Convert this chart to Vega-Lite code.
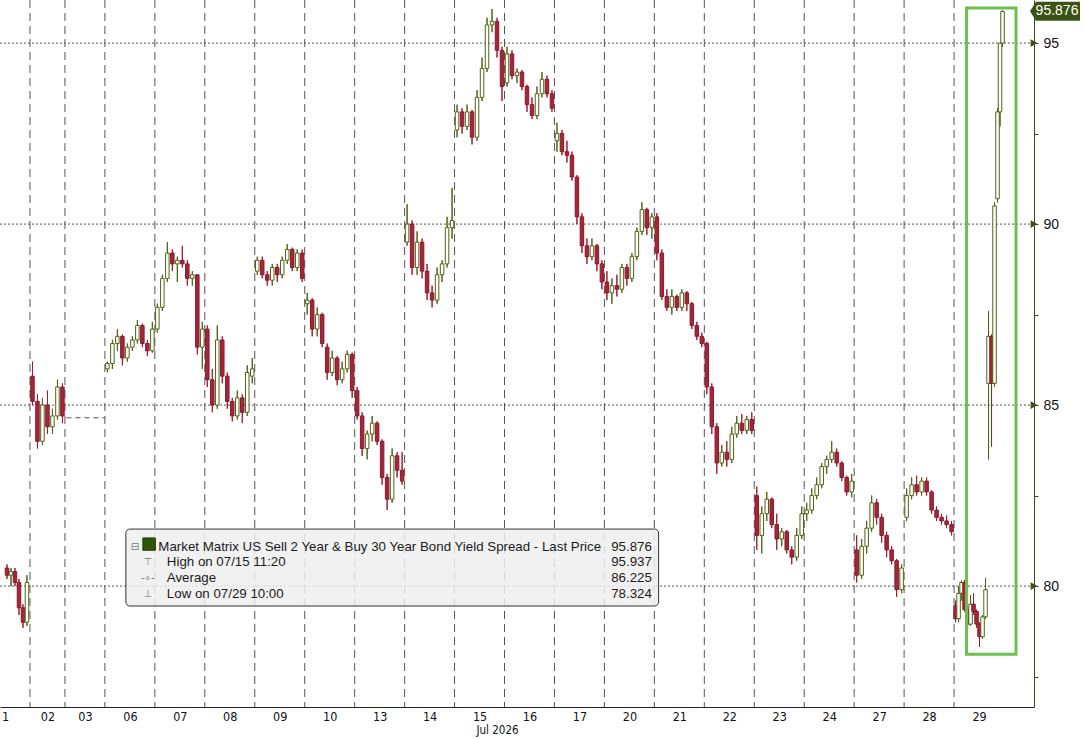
{
  "$schema": "https://vega.github.io/schema/vega-lite/v6.json",
  "autosize": "none",
  "width": 1034,
  "height": 707,
  "padding": {"left": 0, "top": 0, "right": 51, "bottom": 32},
  "background": "white",
  "config": {"view": {"stroke": null}, "font": "Liberation Sans"},
  "datasets": {
    "candles": [
      {"t":0.4,"o":80.5,"h":80.6,"l":80.2,"c":80.3},
      {"t":1.2,"o":80.3,"h":80.5,"l":80.0,"c":80.4},
      {"t":2.0,"o":80.4,"h":80.5,"l":80.0,"c":80.1},
      {"t":2.8,"o":80.1,"h":80.2,"l":79.2,"c":79.4},
      {"t":3.6,"o":79.4,"h":79.5,"l":78.85,"c":79.0},
      {"t":4.4,"o":79.0,"h":80.3,"l":78.9,"c":80.1},
      {"t":5.5,"o":85.8,"h":86.2,"l":85.0,"c":85.1},
      {"t":6.5,"o":85.1,"h":85.3,"l":83.8,"c":84.0},
      {"t":7.5,"o":84.0,"h":85.2,"l":83.9,"c":85.0},
      {"t":8.5,"o":85.0,"h":85.4,"l":84.2,"c":84.4},
      {"t":9.5,"o":84.4,"h":84.9,"l":84.2,"c":84.7},
      {"t":10.5,"o":84.7,"h":85.7,"l":84.6,"c":85.5},
      {"t":11.5,"o":85.5,"h":85.6,"l":84.5,"c":84.7},
      {"t":20.5,"o":86.0,"h":86.2,"l":85.9,"c":86.15},
      {"t":21.5,"o":86.15,"h":86.8,"l":86.0,"c":86.7},
      {"t":22.5,"o":86.7,"h":87.1,"l":86.5,"c":86.9},
      {"t":23.5,"o":86.9,"h":86.95,"l":86.1,"c":86.3},
      {"t":24.5,"o":86.3,"h":86.7,"l":86.2,"c":86.6},
      {"t":25.5,"o":86.6,"h":86.9,"l":86.5,"c":86.8},
      {"t":26.5,"o":86.8,"h":87.35,"l":86.7,"c":87.2},
      {"t":27.5,"o":87.2,"h":87.25,"l":86.6,"c":86.7},
      {"t":28.5,"o":86.7,"h":86.8,"l":86.35,"c":86.5},
      {"t":29.5,"o":86.5,"h":87.3,"l":86.45,"c":87.1},
      {"t":30.5,"o":87.1,"h":87.8,"l":87.0,"c":87.7},
      {"t":31.5,"o":87.7,"h":88.6,"l":87.6,"c":88.5},
      {"t":32.5,"o":88.5,"h":89.5,"l":88.4,"c":89.2},
      {"t":33.5,"o":89.2,"h":89.3,"l":88.7,"c":88.9},
      {"t":34.5,"o":88.9,"h":89.1,"l":88.4,"c":89.0},
      {"t":35.5,"o":89.0,"h":89.4,"l":88.8,"c":88.9},
      {"t":36.5,"o":88.9,"h":89.0,"l":88.3,"c":88.5},
      {"t":37.5,"o":88.5,"h":88.7,"l":88.3,"c":88.6},
      {"t":38.5,"o":88.6,"h":88.6,"l":86.4,"c":86.6},
      {"t":39.5,"o":86.6,"h":87.3,"l":86.0,"c":87.1},
      {"t":40.5,"o":87.1,"h":87.2,"l":85.5,"c":85.7},
      {"t":41.5,"o":85.7,"h":86.0,"l":84.8,"c":85.0},
      {"t":42.5,"o":85.0,"h":87.2,"l":84.9,"c":86.8},
      {"t":43.5,"o":86.8,"h":86.9,"l":85.6,"c":85.8},
      {"t":44.5,"o":85.8,"h":85.9,"l":84.9,"c":85.1},
      {"t":45.5,"o":85.1,"h":85.2,"l":84.55,"c":84.7},
      {"t":46.5,"o":84.7,"h":85.4,"l":84.6,"c":85.2},
      {"t":47.5,"o":85.2,"h":85.3,"l":84.5,"c":84.8},
      {"t":48.5,"o":84.8,"h":86.1,"l":84.7,"c":85.9},
      {"t":49.5,"o":85.8,"h":86.3,"l":85.6,"c":86.0},
      {"t":50.5,"o":88.7,"h":89.1,"l":88.6,"c":89.0},
      {"t":51.5,"o":89.0,"h":89.1,"l":88.5,"c":88.6},
      {"t":52.5,"o":88.6,"h":88.7,"l":88.3,"c":88.45},
      {"t":53.5,"o":88.45,"h":88.9,"l":88.3,"c":88.8},
      {"t":54.5,"o":88.8,"h":88.9,"l":88.4,"c":88.6},
      {"t":55.5,"o":88.6,"h":89.1,"l":88.5,"c":89.0},
      {"t":56.5,"o":89.0,"h":89.45,"l":88.9,"c":89.3},
      {"t":57.5,"o":89.3,"h":89.35,"l":88.7,"c":88.8},
      {"t":58.5,"o":88.8,"h":89.3,"l":88.7,"c":89.2},
      {"t":59.5,"o":89.2,"h":89.3,"l":88.4,"c":88.5},
      {"t":60.5,"o":87.8,"h":88.1,"l":87.5,"c":87.9},
      {"t":61.5,"o":87.9,"h":87.95,"l":86.9,"c":87.1},
      {"t":62.5,"o":87.1,"h":87.7,"l":86.9,"c":87.5},
      {"t":63.5,"o":87.5,"h":87.55,"l":86.6,"c":86.7},
      {"t":64.5,"o":86.6,"h":86.7,"l":85.7,"c":85.9},
      {"t":65.5,"o":85.9,"h":86.5,"l":85.8,"c":86.3},
      {"t":66.5,"o":86.3,"h":86.35,"l":85.55,"c":85.7},
      {"t":67.5,"o":85.7,"h":86.2,"l":85.6,"c":86.0},
      {"t":68.5,"o":86.0,"h":86.5,"l":85.9,"c":86.4},
      {"t":69.5,"o":86.4,"h":86.45,"l":85.2,"c":85.4},
      {"t":70.5,"o":85.4,"h":85.5,"l":84.6,"c":84.7},
      {"t":71.5,"o":84.7,"h":84.8,"l":83.6,"c":83.8},
      {"t":72.5,"o":83.8,"h":84.3,"l":83.5,"c":84.2},
      {"t":73.5,"o":84.2,"h":84.7,"l":84.0,"c":84.5},
      {"t":74.5,"o":84.5,"h":84.55,"l":83.9,"c":84.0},
      {"t":75.5,"o":84.0,"h":84.05,"l":82.8,"c":83.0},
      {"t":76.5,"o":83.0,"h":83.1,"l":82.1,"c":82.4},
      {"t":77.5,"o":82.4,"h":83.8,"l":82.3,"c":83.6},
      {"t":78.5,"o":83.6,"h":83.7,"l":83.0,"c":83.2},
      {"t":79.5,"o":83.2,"h":83.7,"l":82.8,"c":82.9},
      {"t":80.5,"o":89.5,"h":90.55,"l":89.4,"c":90.0},
      {"t":81.5,"o":90.0,"h":90.1,"l":88.6,"c":88.8},
      {"t":82.5,"o":88.8,"h":89.8,"l":88.6,"c":89.5},
      {"t":83.5,"o":89.5,"h":89.6,"l":88.5,"c":88.7},
      {"t":84.5,"o":88.7,"h":88.9,"l":87.9,"c":88.1},
      {"t":85.5,"o":88.1,"h":88.3,"l":87.7,"c":87.9},
      {"t":86.5,"o":87.9,"h":88.8,"l":87.8,"c":88.6},
      {"t":87.5,"o":88.6,"h":89.0,"l":88.4,"c":88.9},
      {"t":88.5,"o":88.9,"h":90.2,"l":88.8,"c":89.9},
      {"t":89.5,"o":89.9,"h":91.0,"l":89.6,"c":90.1},
      {"t":90.5,"o":92.6,"h":93.3,"l":92.4,"c":93.1},
      {"t":91.5,"o":93.1,"h":93.2,"l":92.5,"c":92.7},
      {"t":92.5,"o":92.7,"h":93.3,"l":92.6,"c":93.1},
      {"t":93.5,"o":93.1,"h":93.15,"l":92.2,"c":92.4},
      {"t":94.5,"o":92.4,"h":93.7,"l":92.3,"c":93.5},
      {"t":95.5,"o":93.5,"h":94.6,"l":93.4,"c":94.3},
      {"t":96.5,"o":94.3,"h":95.7,"l":94.2,"c":95.5},
      {"t":97.5,"o":95.5,"h":95.94,"l":95.3,"c":95.6},
      {"t":98.5,"o":95.6,"h":95.7,"l":94.6,"c":94.8},
      {"t":99.5,"o":94.8,"h":94.9,"l":93.4,"c":93.8},
      {"t":100.5,"o":93.9,"h":94.9,"l":93.8,"c":94.7},
      {"t":101.5,"o":94.7,"h":94.8,"l":94.0,"c":94.1},
      {"t":102.5,"o":94.1,"h":94.3,"l":93.9,"c":94.2},
      {"t":103.5,"o":94.2,"h":94.25,"l":93.7,"c":93.8},
      {"t":104.5,"o":93.8,"h":93.85,"l":93.1,"c":93.3},
      {"t":105.5,"o":93.3,"h":93.5,"l":92.9,"c":93.0},
      {"t":106.5,"o":93.0,"h":93.8,"l":92.9,"c":93.6},
      {"t":107.5,"o":93.6,"h":94.2,"l":93.5,"c":94.0},
      {"t":108.5,"o":94.0,"h":94.1,"l":93.5,"c":93.6},
      {"t":109.5,"o":93.6,"h":93.7,"l":93.1,"c":93.2},
      {"t":110.5,"o":92.3,"h":92.8,"l":92.0,"c":92.5},
      {"t":111.5,"o":92.5,"h":92.6,"l":91.9,"c":92.0},
      {"t":112.5,"o":92.0,"h":92.3,"l":91.7,"c":91.9},
      {"t":113.5,"o":91.9,"h":92.0,"l":91.2,"c":91.3},
      {"t":114.5,"o":91.3,"h":91.35,"l":90.0,"c":90.2},
      {"t":115.5,"o":90.2,"h":90.3,"l":89.2,"c":89.4},
      {"t":116.5,"o":89.4,"h":89.6,"l":88.9,"c":89.1},
      {"t":117.5,"o":89.1,"h":89.6,"l":89.0,"c":89.4},
      {"t":118.5,"o":89.4,"h":89.45,"l":88.7,"c":88.9},
      {"t":119.5,"o":88.9,"h":89.0,"l":88.2,"c":88.4},
      {"t":120.5,"o":88.4,"h":88.7,"l":87.9,"c":88.1},
      {"t":121.5,"o":88.1,"h":88.5,"l":87.8,"c":88.3},
      {"t":122.5,"o":88.3,"h":88.6,"l":88.0,"c":88.2},
      {"t":123.5,"o":88.2,"h":88.9,"l":88.1,"c":88.8},
      {"t":124.5,"o":88.8,"h":88.9,"l":88.3,"c":88.5},
      {"t":125.5,"o":88.5,"h":89.2,"l":88.4,"c":89.1},
      {"t":126.5,"o":89.1,"h":89.9,"l":89.0,"c":89.8},
      {"t":127.5,"o":89.8,"h":90.6,"l":89.7,"c":90.4},
      {"t":128.5,"o":90.4,"h":90.45,"l":89.7,"c":89.9},
      {"t":129.5,"o":89.9,"h":90.3,"l":89.6,"c":90.2},
      {"t":130.5,"o":90.2,"h":90.3,"l":89.0,"c":89.2},
      {"t":131.5,"o":89.2,"h":89.3,"l":87.9,"c":88.0},
      {"t":132.5,"o":88.0,"h":88.2,"l":87.6,"c":87.7},
      {"t":133.5,"o":87.7,"h":88.2,"l":87.5,"c":88.0},
      {"t":134.5,"o":88.0,"h":88.05,"l":87.6,"c":87.7},
      {"t":135.5,"o":87.7,"h":88.2,"l":87.6,"c":88.1},
      {"t":136.5,"o":88.1,"h":88.15,"l":87.6,"c":87.8},
      {"t":137.5,"o":87.8,"h":87.85,"l":87.1,"c":87.2},
      {"t":138.5,"o":87.2,"h":87.3,"l":86.8,"c":86.9},
      {"t":139.5,"o":86.9,"h":87.0,"l":86.6,"c":86.7},
      {"t":140.5,"o":86.7,"h":86.75,"l":85.3,"c":85.5},
      {"t":141.5,"o":85.5,"h":85.6,"l":84.2,"c":84.4},
      {"t":142.5,"o":84.4,"h":84.5,"l":83.1,"c":83.4},
      {"t":143.5,"o":83.4,"h":83.9,"l":83.3,"c":83.7},
      {"t":144.5,"o":83.7,"h":84.0,"l":83.3,"c":83.5},
      {"t":145.5,"o":83.5,"h":84.4,"l":83.4,"c":84.2},
      {"t":146.5,"o":84.2,"h":84.7,"l":84.1,"c":84.5},
      {"t":147.5,"o":84.5,"h":84.75,"l":84.2,"c":84.3},
      {"t":148.5,"o":84.3,"h":84.7,"l":84.2,"c":84.6},
      {"t":149.5,"o":84.6,"h":84.8,"l":84.2,"c":84.3},
      {"t":150.5,"o":82.5,"h":82.75,"l":81.0,"c":81.4},
      {"t":151.5,"o":81.4,"h":82.2,"l":80.9,"c":82.0},
      {"t":152.5,"o":82.0,"h":82.6,"l":81.8,"c":82.4},
      {"t":153.5,"o":82.4,"h":82.45,"l":81.6,"c":81.7},
      {"t":154.5,"o":81.7,"h":82.0,"l":81.0,"c":81.3},
      {"t":155.5,"o":81.3,"h":81.6,"l":81.1,"c":81.5},
      {"t":156.5,"o":81.5,"h":81.55,"l":80.9,"c":81.0},
      {"t":157.5,"o":81.0,"h":81.1,"l":80.6,"c":80.8},
      {"t":158.5,"o":80.8,"h":81.6,"l":80.7,"c":81.4},
      {"t":159.5,"o":81.4,"h":82.2,"l":81.3,"c":82.0},
      {"t":160.5,"o":82.0,"h":82.3,"l":81.8,"c":82.1},
      {"t":161.5,"o":82.1,"h":82.7,"l":82.0,"c":82.5},
      {"t":162.5,"o":82.5,"h":83.0,"l":82.4,"c":82.8},
      {"t":163.5,"o":82.8,"h":83.4,"l":82.7,"c":83.3},
      {"t":164.5,"o":83.3,"h":83.6,"l":83.1,"c":83.5},
      {"t":165.5,"o":83.5,"h":84.0,"l":83.4,"c":83.7},
      {"t":166.5,"o":83.7,"h":83.8,"l":83.3,"c":83.4},
      {"t":167.5,"o":83.4,"h":83.45,"l":82.9,"c":83.0},
      {"t":168.5,"o":83.0,"h":83.05,"l":82.5,"c":82.6},
      {"t":169.5,"o":82.6,"h":83.1,"l":82.45,"c":82.9},
      {"t":170.5,"o":81.0,"h":81.4,"l":80.1,"c":80.3},
      {"t":171.5,"o":80.3,"h":81.3,"l":80.2,"c":81.1},
      {"t":172.5,"o":81.1,"h":81.8,"l":80.9,"c":81.6},
      {"t":173.5,"o":81.6,"h":82.5,"l":81.5,"c":82.3},
      {"t":174.5,"o":82.3,"h":82.4,"l":81.7,"c":81.9},
      {"t":175.5,"o":81.9,"h":82.0,"l":81.2,"c":81.4},
      {"t":176.5,"o":81.4,"h":81.5,"l":80.8,"c":81.0},
      {"t":177.5,"o":81.0,"h":81.1,"l":80.6,"c":80.7},
      {"t":178.5,"o":80.7,"h":80.75,"l":79.7,"c":79.9},
      {"t":179.5,"o":79.9,"h":80.6,"l":79.8,"c":80.5},
      {"t":180.5,"o":81.9,"h":82.7,"l":81.8,"c":82.5},
      {"t":181.5,"o":82.5,"h":83.0,"l":82.4,"c":82.8},
      {"t":182.5,"o":82.8,"h":83.05,"l":82.5,"c":82.6},
      {"t":183.5,"o":82.6,"h":83.0,"l":82.5,"c":82.9},
      {"t":184.5,"o":82.9,"h":83.0,"l":82.5,"c":82.6},
      {"t":185.5,"o":82.6,"h":82.65,"l":82.0,"c":82.1},
      {"t":186.5,"o":82.1,"h":82.2,"l":81.8,"c":81.9},
      {"t":187.5,"o":81.9,"h":82.0,"l":81.7,"c":81.8},
      {"t":188.5,"o":81.8,"h":81.95,"l":81.6,"c":81.7},
      {"t":189.5,"o":81.7,"h":81.8,"l":81.4,"c":81.5},
      {"t":190.3,"o":79.45,"h":79.6,"l":79.0,"c":79.1},
      {"t":190.9,"o":79.1,"h":80.0,"l":79.0,"c":79.8},
      {"t":191.5,"o":79.8,"h":80.15,"l":79.6,"c":80.1},
      {"t":192.1,"o":80.1,"h":80.17,"l":79.3,"c":79.35},
      {"t":192.7,"o":79.35,"h":79.4,"l":78.8,"c":78.95},
      {"t":193.3,"o":78.95,"h":79.75,"l":78.9,"c":79.5},
      {"t":193.9,"o":79.5,"h":79.8,"l":79.2,"c":79.3},
      {"t":194.5,"o":79.3,"h":79.35,"l":78.85,"c":78.95},
      {"t":195.1,"o":78.95,"h":79.0,"l":78.32,"c":78.6},
      {"t":195.7,"o":78.6,"h":79.2,"l":78.55,"c":79.15},
      {"t":196.3,"o":79.15,"h":80.22,"l":79.1,"c":79.9},
      {"t":196.9,"o":85.6,"h":87.6,"l":83.5,"c":86.9},
      {"t":197.5,"o":86.9,"h":86.95,"l":83.85,"c":85.6},
      {"t":198.1,"o":85.6,"h":90.6,"l":85.5,"c":90.5},
      {"t":198.7,"o":90.7,"h":93.2,"l":90.6,"c":93.1},
      {"t":199.2,"o":93.1,"h":95.0,"l":92.7,"c":95.0},
      {"t":199.7,"o":95.0,"h":95.9,"l":94.9,"c":95.876}
    ],
    "days": [
      {"t":5},{"t":12},{"t":20},{"t":30},{"t":40},{"t":50},{"t":60},{"t":70},{"t":80},{"t":90},
      {"t":100},{"t":110},{"t":120},{"t":130},{"t":140},{"t":150},{"t":160},{"t":170},{"t":180},{"t":190}
    ],
    "levels": [{"v":80},{"v":85},{"v":90},{"v":95}],
    "holiday": [{"t":12.3,"t2":20,"v":84.65}],
    "highlight": [{"x":192.5,"x2":202.4,"y":95.97,"y2":78.12}],
    "last": [{"v":95.876,"label":"95.876"}],
    "legendBox": [{"x":24.2,"x2":130.85,"y":81.575,"y2":79.45}],
    "legendSwatch": [{"x":27.6,"x2":30.1,"y":81.33,"y2":80.99}],
    "legendText": [
      {"x":30.7,"y":81.077,"label":"Market Matrix US Sell 2 Year & Buy 30 Year Bond Yield Spread - Last Price"},
      {"x":32.4,"y":80.663,"label":"High on 07/15 11:20"},
      {"x":32.4,"y":80.221,"label":"Average"},
      {"x":32.4,"y":79.779,"label":"Low on 07/29 10:00"}
    ],
    "legendIcons": [
      {"x":26.0,"y":81.077,"label":"⊟"},
      {"x":28.6,"y":80.663,"label":"⊤"},
      {"x":28.6,"y":80.221,"label":"-∘-"},
      {"x":28.6,"y":79.779,"label":"⊥"}
    ],
    "legendValues": [
      {"x":129.5,"y":81.077,"label":"95.876"},
      {"x":129.5,"y":80.663,"label":"95.937"},
      {"x":129.5,"y":80.221,"label":"86.225"},
      {"x":129.5,"y":79.779,"label":"78.324"}
    ]
  },
  "layer": [
    {
      "data": {"name": "candles"},
      "mark": {"type": "rule", "strokeWidth": 1},
      "encoding": {
        "x": {
          "field": "t",
          "type": "quantitative",
          "scale": {"domain": [0, 205], "nice": false, "zero": false},
          "axis": {
            "title": "Jul 2026",
            "titleFont": "'DejaVu Sans Condensed', 'Liberation Sans Narrow', 'Liberation Sans', sans-serif",
            "titleFontSize": 11.5,
            "titleFontWeight": "normal",
            "titleColor": "#111111",
            "titleX": 497,
            "titleY": 17,
            "titleBaseline": "top",
            "values": [0, 8.5, 16, 25, 35, 45, 55, 65, 75, 85, 95, 105, 115, 125, 135, 145, 155, 165, 175, 185, 195],
            "labelExpr": "['1','02','03','06','07','08','09','10','13','14','15','16','17','20','21','22','23','24','27','28','29'][indexof([0, 8.5, 16, 25, 35, 45, 55, 65, 75, 85, 95, 105, 115, 125, 135, 145, 155, 165, 175, 185, 195], datum.value)]",
            "labelFont": "'DejaVu Sans Condensed', 'Liberation Sans Narrow', 'Liberation Sans', sans-serif",
            "labelFontSize": 12.5,
            "labelColor": "#111111",
            "labelPadding": 3,
            "labelOverlap": false,
            "labelFlush": false,
            "ticks": false,
            "grid": false,
            "domainColor": "#222222",
            "domainWidth": 1
          }
        },
        "y": {
          "field": "l",
          "type": "quantitative",
          "scale": {"domain": [76.66, 96.19], "nice": false, "zero": false},
          "axis": {
            "orient": "right",
            "title": null,
            "values": [77.5, 80, 82.5, 85, 87.5, 90, 92.5, 95],
            "labelExpr": "datum.value % 5 == 0 ? datum.label : ''",
            "labelFont": "Liberation Sans",
            "labelFontSize": 14,
            "labelColor": "#111111",
            "labelPadding": 5,
            "tickSize": 4,
            "tickColor": "#3b4a14",
            "domainColor": "#3b4a14",
            "grid": false
          }
        },
        "y2": {"field": "h"},
        "color": {
          "condition": {"test": "datum.c >= datum.o", "value": "#4f6412"},
          "value": "#9a1f33"
        }
      }
    },
    {
      "data": {"name": "levels"},
      "mark": {"type": "rule", "color": "#555555", "strokeDash": [2, 2], "strokeWidth": 1},
      "encoding": {"y": {"field": "v", "type": "quantitative"}}
    },
    {
      "data": {"name": "days"},
      "mark": {"type": "rule", "color": "#555555", "strokeDash": [8, 5], "strokeWidth": 1},
      "encoding": {"x": {"field": "t", "type": "quantitative"}}
    },
    {
      "data": {"name": "legendBox"},
      "mark": {"type": "rect", "fill": "#eeeeee", "fillOpacity": 0.85, "stroke": "#333333", "strokeWidth": 1, "cornerRadius": 4},
      "encoding": {
        "x": {"field": "x", "type": "quantitative"},
        "x2": {"field": "x2"},
        "y": {"field": "y", "type": "quantitative"},
        "y2": {"field": "y2"}
      }
    },
    {
      "data": {"name": "holiday"},
      "mark": {"type": "rule", "color": "#555555", "strokeDash": [5, 4], "strokeWidth": 1},
      "encoding": {
        "x": {"field": "t", "type": "quantitative"},
        "x2": {"field": "t2"},
        "y": {"field": "v", "type": "quantitative"}
      }
    },
    {
      "data": {"name": "candles"},
      "mark": {"type": "rule", "strokeWidth": 1},
      "encoding": {
        "x": {"field": "t", "type": "quantitative"},
        "y": {"field": "l", "type": "quantitative"},
        "y2": {"field": "h"},
        "color": {
          "condition": {"test": "datum.c >= datum.o", "value": "#4f6412"},
          "value": "#9a1f33"
        }
      }
    },
    {
      "data": {"name": "candles"},
      "mark": {"type": "bar", "width": 3.5, "strokeWidth": 1},
      "encoding": {
        "x": {"field": "t", "type": "quantitative"},
        "y": {"field": "o", "type": "quantitative"},
        "y2": {"field": "c"},
        "fill": {
          "condition": {"test": "datum.c >= datum.o", "value": "#ffffff"},
          "value": "#a3263b"
        },
        "stroke": {
          "condition": {"test": "datum.c >= datum.o", "value": "#4f6412"},
          "value": "#8a1a2c"
        }
      }
    },
    {
      "data": {"name": "highlight"},
      "mark": {"type": "rect", "fill": null, "stroke": "#6dbf4e", "strokeWidth": 3},
      "encoding": {
        "x": {"field": "x", "type": "quantitative"},
        "x2": {"field": "x2"},
        "y": {"field": "y", "type": "quantitative"},
        "y2": {"field": "y2"}
      }
    },
    {
      "data": {"name": "levels"},
      "mark": {"type": "point", "shape": "triangle-right", "filled": true, "size": 60, "color": "#3b5212", "xOffset": 5, "opacity": 1},
      "encoding": {
        "x": {"datum": 205, "type": "quantitative"},
        "y": {"field": "v", "type": "quantitative"}
      }
    },
    {
      "data": {"name": "last"},
      "mark": {"type": "point", "shape": "M-1,0L-0.76,-0.38L1,-0.38L1,0.38L-0.76,0.38Z", "filled": true, "size": 2500, "color": "#3b5212", "xOffset": 26, "opacity": 1},
      "encoding": {
        "x": {"datum": 205, "type": "quantitative"},
        "y": {"field": "v", "type": "quantitative"}
      }
    },
    {
      "data": {"name": "last"},
      "mark": {"type": "text", "color": "white", "font": "Liberation Sans", "fontSize": 14, "xOffset": 28, "align": "center", "baseline": "middle"},
      "encoding": {
        "x": {"datum": 205, "type": "quantitative"},
        "y": {"field": "v", "type": "quantitative"},
        "text": {"field": "label"}
      }
    },
    {
      "data": {"name": "legendSwatch"},
      "mark": {"type": "rect", "fill": "#2f5508", "stroke": "#1e3a05", "strokeWidth": 1},
      "encoding": {
        "x": {"field": "x", "type": "quantitative"},
        "x2": {"field": "x2"},
        "y": {"field": "y", "type": "quantitative"},
        "y2": {"field": "y2"}
      }
    },
    {
      "data": {"name": "legendIcons"},
      "mark": {"type": "text", "color": "#777777", "font": "DejaVu Sans", "fontSize": 10, "align": "center", "baseline": "middle"},
      "encoding": {
        "x": {"field": "x", "type": "quantitative"},
        "y": {"field": "y", "type": "quantitative"},
        "text": {"field": "label"}
      }
    },
    {
      "data": {"name": "legendText"},
      "mark": {"type": "text", "color": "#1a1a1a", "font": "Liberation Sans", "fontSize": 13.3, "align": "left", "baseline": "middle"},
      "encoding": {
        "x": {"field": "x", "type": "quantitative"},
        "y": {"field": "y", "type": "quantitative"},
        "text": {"field": "label"}
      }
    },
    {
      "data": {"name": "legendValues"},
      "mark": {"type": "text", "color": "#1a1a1a", "font": "Liberation Sans", "fontSize": 13.3, "align": "right", "baseline": "middle"},
      "encoding": {
        "x": {"field": "x", "type": "quantitative"},
        "y": {"field": "y", "type": "quantitative"},
        "text": {"field": "label"}
      }
    }
  ]
}
